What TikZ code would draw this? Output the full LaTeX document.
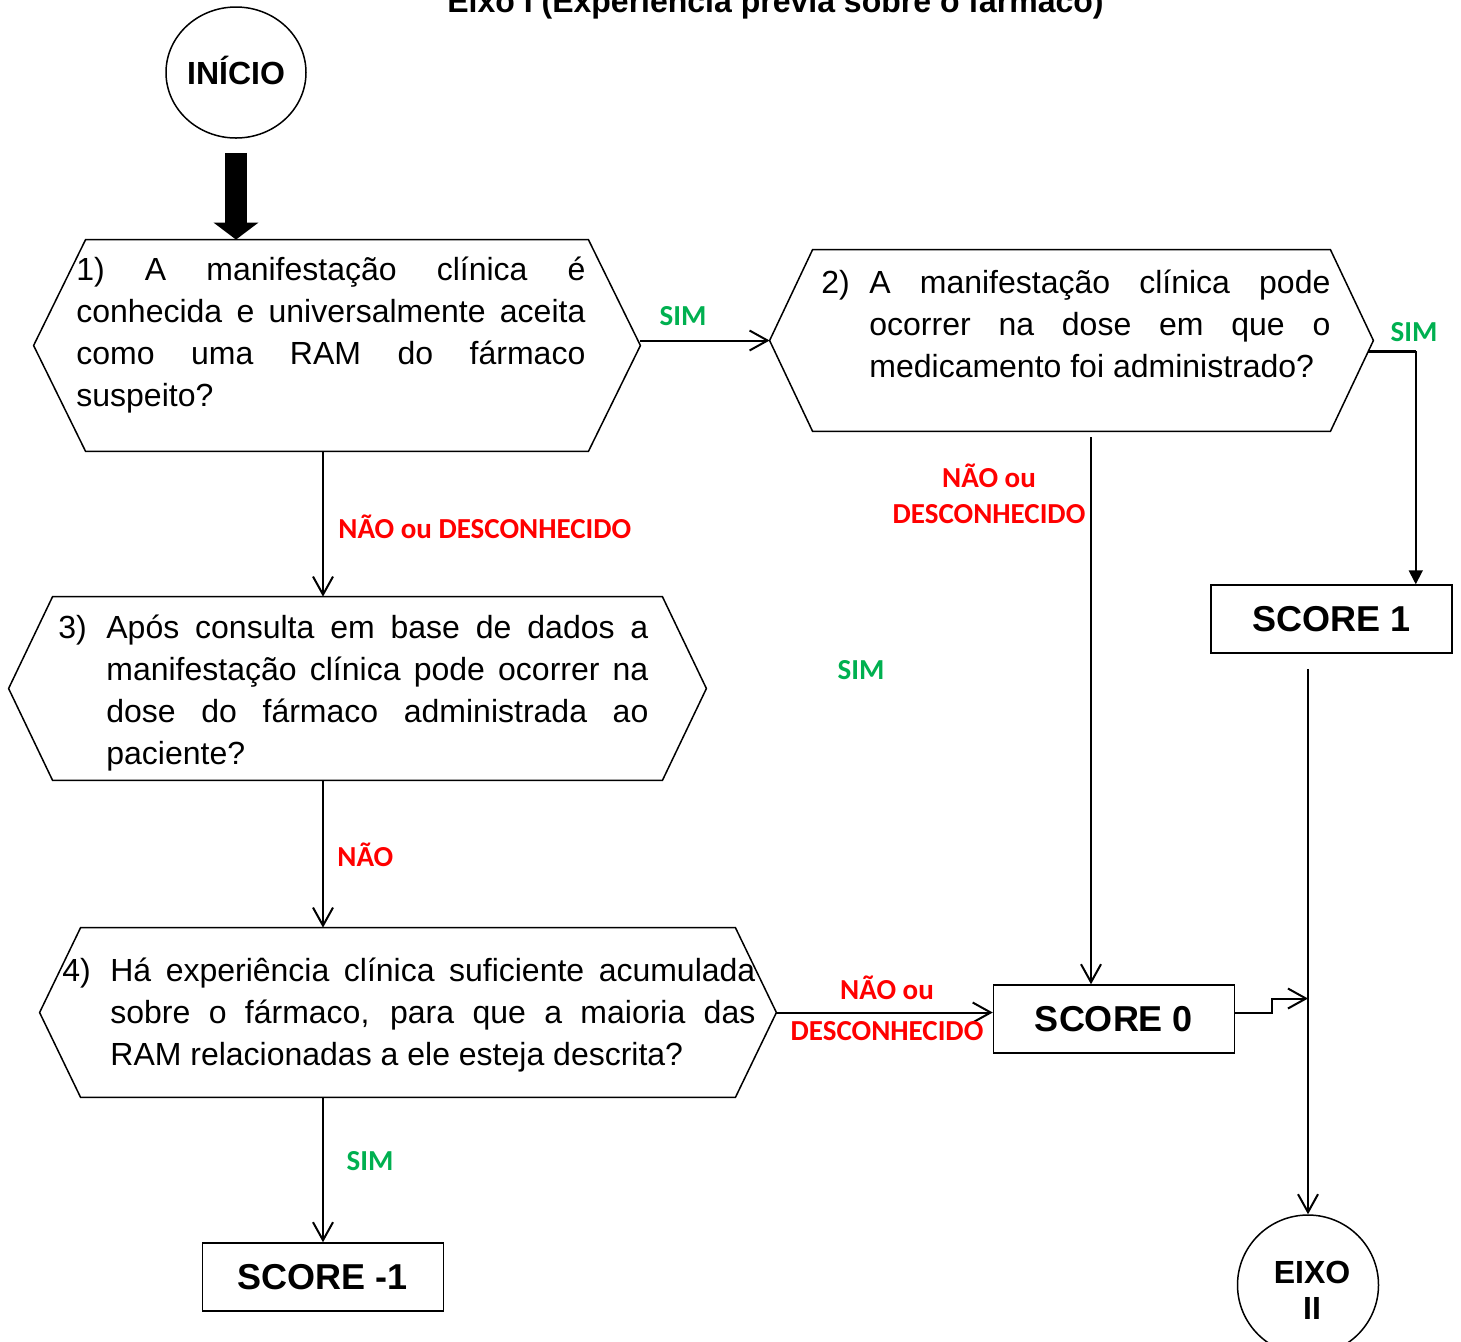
\documentclass[tikz,border=0pt]{standalone}
\usepackage{fontspec}
\setmainfont{Liberation Sans}
\newfontfamily\calibrilike{Carlito}
\usetikzlibrary{arrows.meta,calc,shapes.geometric}

\definecolor{simgreen}{RGB}{0,176,80}
\definecolor{naored}{RGB}{255,0,0}

% one justified line of a question text
\newcommand{\jl}[1]{\makebox[\linewidth][s]{#1}}
% hexagonal outline around a rectangular body node, #2 = length of the side points
\newcommand{\hexoutline}[2]{%
  \draw[hexline] (#1.north west) -- (#1.north east) -- ($(#1.east)+(#2,0)$)
    -- (#1.south east) -- (#1.south west) -- ($(#1.west)-(#2,0)$) -- cycle;}

\tikzset{
  hexbody/.style={draw=none, rectangle, inner sep=0pt},
  hexline/.style={draw=black, line width=0.75pt, line join=miter},
  qtext/.style={inner sep=0pt, anchor=base west, font=\fontsize{16pt}{21pt}\selectfont},
  scorebox/.style={draw, line width=0.75pt, rectangle, minimum width=120.5pt,
    minimum height=34pt, inner sep=0pt, font=\fontsize{18pt}{21pt}\selectfont\bfseries},
  terminal/.style={draw, ellipse, line width=0.75pt, inner sep=0pt},
  termtext/.style={inner sep=0pt, anchor=base, font=\fontsize{16pt}{19pt}\selectfont\bfseries},
  conn/.style={line width=1pt, -{Straight Barb[length=9pt,width=10pt]}},
  yeslbl/.style={text=simgreen, inner sep=0pt, anchor=base,
    font=\calibrilike\fontsize{14.5pt}{18pt}\selectfont\bfseries},
  nolbl/.style={yeslbl, text=naored},
}

\begin{document}
\begin{tikzpicture}[x=0.5pt, y=-0.5pt]
\useasboundingbox (0,0) rectangle (1461,1341);

% title
\node[termtext] (titulo) at (775.5,12) {Eixo I (Experiência prévia sobre o fármaco)};

% start terminal
\node[terminal, minimum width=70pt, minimum height=65.5pt,
      font=\fontsize{16pt}{19pt}\selectfont\bfseries, text height=11.5pt, text depth=0pt]
      (ini) at (236,72.5) {INÍCIO};

% question bodies
\node[hexbody, minimum width=251pt,   minimum height=105.5pt] (q1) at (337,345.5) {};
\node[hexbody, minimum width=258.5pt, minimum height=90.5pt]  (q2) at (1071.5,340.5) {};
\node[hexbody, minimum width=304.5pt, minimum height=91.5pt]  (q3) at (357.5,688.5) {};
\node[hexbody, minimum width=327pt,   minimum height=84.5pt]  (q4) at (408,1012.5) {};

\hexoutline{q1}{52}
\hexoutline{q2}{43}
\hexoutline{q3}{44}
\hexoutline{q4}{41}

\coordinate (q1e) at ($(q1.east)+(52,0)$);
\coordinate (q2w) at ($(q2.west)-(43,0)$);
\coordinate (q2e) at ($(q2.east)+(43,0)$);
\coordinate (q4e) at ($(q4.east)+(41,0)$);

% question texts
\node[qtext] (q1t) at (76,280) {\parbox[t]{254.5pt}{%
  \jl{1) A manifestação clínica é}\\
  \jl{conhecida e universalmente aceita}\\
  \jl{como uma RAM do fármaco}\\
  suspeito?}};

\node[qtext] (q2t) at (821,293) {\makebox[24pt][l]{2)}\parbox[t]{230.5pt}{%
  \jl{A manifestação clínica pode}\\
  \jl{ocorrer na dose em que o}\\
  medicamento foi administrado?}};

\node[qtext] (q3t) at (58,638) {\makebox[24pt][l]{3)}\parbox[t]{271pt}{%
  \jl{Após consulta em base de dados a}\\
  \jl{manifestação clínica pode ocorrer na}\\
  \jl{dose do fármaco administrada ao}\\
  paciente?}};

\node[qtext] (q4t) at (62,981) {\makebox[24pt][l]{4)}\parbox[t]{322.5pt}{%
  \jl{Há experiência clínica suficiente acumulada}\\
  \jl{sobre o fármaco, para que a maioria das}\\
  RAM relacionadas a ele esteja descrita?}};

% scores
\node[scorebox] (s1) at (1331.5,619) {SCORE 1};
\node[scorebox] (s0) at (1114,1019) {SCORE 0};
\node[scorebox] (sm) at (323,1277) {SCORE -1};

% end terminal
\node[terminal, minimum width=70.5pt, minimum height=70pt] (eixo) at (1308,1285) {};
\node[termtext] (eixot1) at (1312,1283.5) {EIXO};
\node[termtext] (eixot2) at (1312,1319.5) {II};

% start arrow
\draw[line width=11pt, -{Triangle[length=8.5pt,width=22pt]}]
  ([yshift=-7pt]ini.south) -- (ini.south |- q1.north);

% 1 -> 2
\draw[conn] (q2w -| q1e) -- (q2w);
\node[yeslbl] (l1) at (683,325) {SIM};

% 2 -> score 1
\coordinate (q2exit) at ($(q2e)!0.12!(q2.south east)$);
\coordinate (s1in) at ([xshift=-18.5pt]s1.north east);
\draw[line width=1.6pt] (q2exit) -- (q2exit -| s1in);
\draw[line width=0.9pt, -{Triangle[length=7pt,width=7pt]}] (q2exit -| s1in) -- (s1in);
\node[yeslbl] (l2) at (1414,341) {SIM};

% 1 -> 3
\draw[conn] (q1.south -| sm.north) -- (q3.north -| sm.north);
\node[nolbl, anchor=base west] (l3) at (338,538) {NÃO ou DESCONHECIDO};

% 2 -> score 0
\coordinate (s0in) at ([xshift=-11.5pt]s0.north);
\coordinate (q2b) at ([yshift=-3pt]q2.south);
\draw[conn] (q2b -| s0in) -- (s0in);
\node[nolbl] (l4a) at (989,487) {NÃO ou};
\node[nolbl] (l4b) at (989,523) {DESCONHECIDO};

\node[yeslbl] (l5) at (861,679) {SIM};

% 3 -> 4
\draw[conn] (q3.south -| sm.north) -- (q4.north -| sm.north);
\node[nolbl, anchor=base west] (l6) at (337,866) {NÃO};

% 4 -> score 0
\draw[conn] (q4e) -- (q4e -| s0.west);
\node[nolbl] (l7a) at (887,999) {NÃO ou};
\node[nolbl] (l7b) at (887,1040) {DESCONHECIDO};

% score 1 -> eixo II
\coordinate (s1out) at ([yshift=-7.5pt]s1.south);
\draw[conn] (s1out -| eixo.north) -- (eixo.north);

% score 0 -> eixo II line
\coordinate (mergept) at ([yshift=7pt]q4e);
\draw[conn] (q4e -| s0.east) -- ++(37,0) |- (mergept -| eixo.north);

% 4 -> score -1
\draw[conn] (q4.south -| sm.north) -- (sm.north);
\node[yeslbl] (l8) at (370,1170) {SIM};
\end{tikzpicture}
\end{document}
